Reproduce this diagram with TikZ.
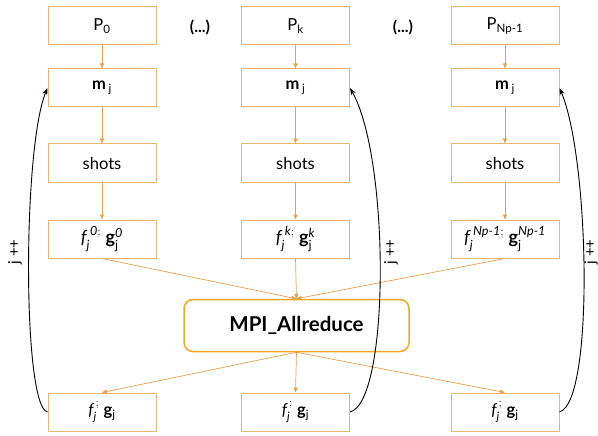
\documentclass[tikz,border=0pt]{standalone}
\usepackage{amsmath}
\usepackage{fontspec}
\setmainfont{Lato}
\usepackage{tikz}
\usetikzlibrary{arrows.meta}

\definecolor{boxcol}{HTML}{E6B673}
\definecolor{mpicol}{HTML}{F5A623}
\definecolor{arrcol}{HTML}{E9A04F}

\begin{document}
\begin{tikzpicture}[x=1pt,y=-1pt,
    box/.style={draw=boxcol, line width=1pt, minimum width=108pt,
      minimum height=38pt, inner sep=0pt, font=\fontsize{16.5}{19}\selectfont},
    flow/.style={draw=arrcol, line width=0.7pt, -{Triangle[length=5pt,width=4pt]}},
    loopback/.style={draw=black, line width=0.9pt, -{Stealth[length=7pt,width=5pt]}},
    count/.style={rotate=90, font=\fontsize{15}{18}\selectfont}]
    \useasboundingbox (0,0) rectangle (598,436);
    % One column of boxes per process
    \foreach \n/\x/\s in {1/102/0,2/295.5/k,3/505/Np-1} {
      \node[box] (p\n) at (\x,26) {P\textsubscript{\s}};
      \node[box] (m\n) at (\x,88) {\textbf{m}\,\textsubscript{j}};
      \node[box] (s\n) at (\x,163) {shots};
      \node[box, font=\fontsize{18}{20}\selectfont] (f\n) at (\x,239)
        {$\textit{f}_{\textit{j}}^{\;\textit{\s};}\ \textbf{g}_{\textup{j}}^{\textit{\s}}$};
      \node[box] (r\n) at (\x,412)
        {$\textit{f}_{\textit{j}}^{\,;}\ \textbf{g}_{\textup{j}}$};
      \draw[flow] (p\n) -- (m\n);
      \draw[flow] (m\n) -- (s\n);
      \draw[flow] (s\n) -- (f\n);
    }
    \node[font=\fontsize{16}{19}\selectfont\bfseries] (dots1) at (200,27) {(...)};
    \node[font=\fontsize{16}{19}\selectfont\bfseries] (dots2) at (403,27) {(...)};
    % Reduction over all processes
    \node[draw=mpicol, line width=1.5pt, rounded corners=9pt, minimum width=225pt,
      minimum height=52pt, font=\fontsize{20.5}{23}\selectfont\bfseries]
      (mpi) at (296.5,325.5) {MPI\_Allreduce};
    \foreach \n in {1,2,3} {
      \draw[flow] (f\n.south) -- (mpi.north);
      \draw[flow] (mpi.south) -- (r\n.north);
    }
    % Next iteration
    \draw[loopback] (r1.west) .. controls +(-25,-5) and +(-25,60) .. (m1.west);
    \draw[loopback] (r2.east) .. controls +(40,-10) and +(40,70) .. (m2.east);
    \draw[loopback] (r3.east) .. controls +(35,-10) and +(30,70) .. (m3.east);
    \node[count] (inc1) at (15,252) {j ++};
    \node[count] (inc2) at (391,252) {j ++};
    \node[count] (inc3) at (591,252) {j ++};
  \end{tikzpicture}
\end{document}
